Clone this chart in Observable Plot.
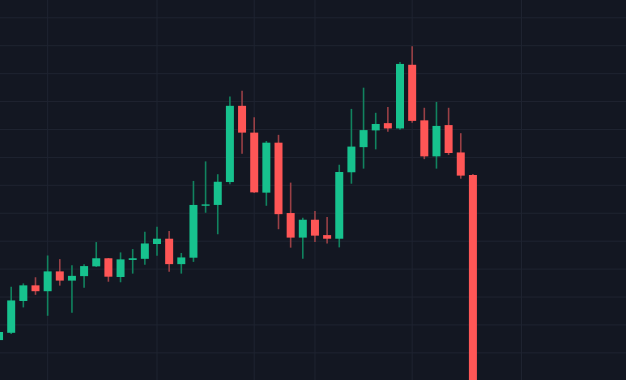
<!DOCTYPE html>
<html>
<head>
<meta charset="utf-8">
<script src="https://cdn.jsdelivr.net/npm/d3@7"></script>
<script src="https://cdn.jsdelivr.net/npm/@observablehq/plot@0.6"></script>
<style>
  html, body { margin: 0; padding: 0; background: #131722; overflow: hidden; }
  #chart svg { display: block; }
</style>
</head>
<body>
<div id="chart"></div>
<script>
// Candle index (one per bar)
const idx = d3.range(40);
const open  = [104.4,107.0,118.4,124.0,121.9,129.0,125.7,127.3,130.8,133.7,127.0,133.1,133.5,138.8,140.7,131.6,133.9,152.5,152.8,161.0,188.3,178.7,157.2,175.1,149.9,141.1,147.5,142.0,140.7,164.5,173.5,179.5,182.1,180.2,203.0,183.1,170.2,181.4,171.6,163.5];
const close = [107.3,118.6,124.0,121.9,129.0,125.7,127.4,130.9,133.7,127.1,133.3,133.7,139.0,140.7,131.6,134.0,152.8,153.0,161.1,188.3,178.7,157.3,175.1,149.5,141.1,147.5,141.8,140.7,164.6,173.7,179.6,181.8,180.2,203.3,182.9,170.2,181.1,171.4,163.3,60.0];
const high  = [108.0,123.5,124.7,126.9,134.7,133.4,131.2,131.6,139.5,133.8,135.8,137.0,143.2,145.0,143.5,135.6,161.4,168.4,163.8,191.6,193.7,184.2,175.7,177.9,160.8,148.2,150.6,148.5,167.2,187.2,194.8,185.8,187.9,204.0,209.6,187.6,189.7,187.6,178.5,163.9];
const low   = [104.0,106.6,116.1,120.6,113.1,123.9,114.2,123.1,130.6,125.3,125.1,128.2,131.4,134.6,128.9,128.2,132.4,150.0,142.3,160.2,171.1,157.1,152.5,144.1,137.5,133.5,139.5,139.0,137.6,160.4,165.8,172.7,179.0,179.7,182.2,169.2,165.8,170.7,162.2,55.0];

// Vertical grid positions (time-scale ticks, in candle index units) and price grid ticks
const timeGrid = [4, 13, 21, 26, 34, 43];
const priceGrid = [100,110,120,130,140,150,160,170,180,190,200,210,220];

const candles = idx.map(i => ({i, open: open[i], close: close[i], high: high[i], low: low[i], up: close[i] >= open[i]}));

const UP = "#17c28e", DOWN = "#ff5656";
const UP_WICK = "#11835f", DOWN_WICK = "#9a4046";

const chart = Plot.plot({
  width: 626,
  height: 380,
  margin: 0,
  style: {background: "#131722"},
  x: {type: "linear", domain: [0.12, 51.64], axis: null},
  y: {domain: [90.1, 226.2], axis: null},
  marks: [
    Plot.ruleY(priceGrid, {stroke: "#1f2431", strokeWidth: 1}),
    Plot.ruleX(timeGrid, {stroke: "#1f2431", strokeWidth: 1}),
    Plot.ruleX(candles, {x: "i", y1: "low", y2: "high", stroke: d => d.up ? UP_WICK : DOWN_WICK, strokeWidth: 1.6, clip: true}),
    Plot.ruleX(candles, {x: "i", y1: "open", y2: "close", stroke: d => d.up ? UP : DOWN, strokeWidth: 8, clip: true})
  ]
});
document.getElementById("chart").append(chart);
</script>
</body>
</html>
